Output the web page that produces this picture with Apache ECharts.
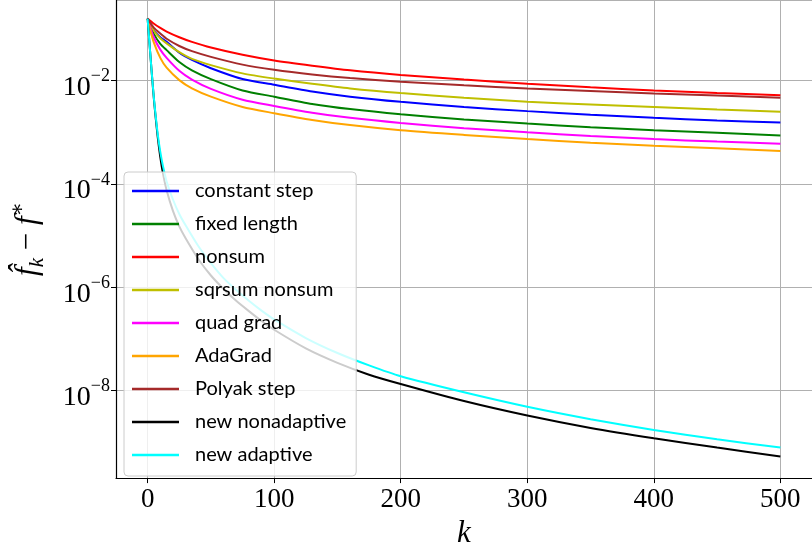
<!DOCTYPE html>
<html><head><meta charset="utf-8">
<script src="https://cdn.jsdelivr.net/npm/echarts@6/dist/echarts.min.js"></script>
<style>html,body{margin:0;padding:0;background:#fff}#c{width:812px;height:554px}</style>
</head><body><div id="c"></div>
<script>
// iteration counts k at which values were read (upper methods)
const kSteps = [0,2,5,10,15,25,35,50,75,100,130,160,200,250,300,350,400,450,500];
// log10(f_k - f*)
const constantStep = [-0.80,-0.89,-1.03,-1.16,-1.25,-1.46,-1.60,-1.76,-1.97,-2.08,-2.21,-2.31,-2.41,-2.51,-2.59,-2.66,-2.72,-2.77,-2.81];
const fixedLength  = [-0.80,-0.93,-1.10,-1.29,-1.41,-1.64,-1.80,-1.97,-2.19,-2.31,-2.45,-2.55,-2.65,-2.75,-2.83,-2.90,-2.96,-3.01,-3.06];
const nonsum       = [-0.80,-0.84,-0.90,-0.98,-1.05,-1.16,-1.25,-1.36,-1.50,-1.61,-1.71,-1.80,-1.89,-1.98,-2.06,-2.13,-2.19,-2.24,-2.285];
const sqrsumNonsum = [-0.80,-0.90,-1.04,-1.18,-1.28,-1.45,-1.58,-1.70,-1.86,-1.96,-2.06,-2.15,-2.24,-2.33,-2.41,-2.46,-2.51,-2.56,-2.60];
const quadGrad     = [-0.80,-0.97,-1.17,-1.40,-1.56,-1.81,-1.98,-2.16,-2.37,-2.49,-2.62,-2.72,-2.82,-2.92,-3.00,-3.07,-3.13,-3.18,-3.22];
const adaGrad      = [-0.80,-1.02,-1.27,-1.56,-1.75,-1.99,-2.15,-2.31,-2.51,-2.63,-2.76,-2.86,-2.96,-3.05,-3.13,-3.20,-3.26,-3.31,-3.36];
const polyakStep   = [-0.80,-0.88,-0.98,-1.09,-1.19,-1.33,-1.43,-1.54,-1.69,-1.79,-1.88,-1.95,-2.02,-2.09,-2.15,-2.20,-2.25,-2.29,-2.33];
// iteration counts for the two new methods
const kNew = [0,1,2,3,4,5,6,8,10,12,15,20,25,30,40,50,60,70,80,90,100,125,150,175,200,250,300,350,400,450,500];
const newNonadaptive = [-0.80,-1.13,-1.45,-1.77,-2.08,-2.37,-2.63,-3.10,-3.48,-3.78,-4.12,-4.52,-4.82,-5.05,-5.45,-5.77,-6.03,-6.26,-6.46,-6.65,-6.82,-7.18,-7.46,-7.69,-7.87,-8.20,-8.48,-8.72,-8.92,-9.10,-9.27];
const newAdaptive    = [-0.80,-1.13,-1.45,-1.77,-2.07,-2.35,-2.60,-3.04,-3.38,-3.64,-3.95,-4.30,-4.58,-4.80,-5.20,-5.53,-5.82,-6.05,-6.26,-6.45,-6.62,-6.98,-7.27,-7.51,-7.72,-8.03,-8.31,-8.55,-8.76,-8.94,-9.10];
const legendNames = ['constant step','fixed length','nonsum','sqrsum nonsum','quad grad','AdaGrad','Polyak step','new nonadaptive','new adaptive'];
const colors = ['#0000ff','#008000','#ff0000','#bfbf00','#ff00ff','#ffa500','#a52a2a','#000000','#00ffff'];
const yTickExponents = [-8,-6,-4,-2];
const xTicks = [0,100,200,300,400,500];

const serif = '"Liberation Serif","DejaVu Serif",serif';
const seriesData = [
  [kSteps, constantStep],[kSteps, fixedLength],[kSteps, nonsum],[kSteps, sqrsumNonsum],
  [kSteps, quadGrad],[kSteps, adaGrad],[kSteps, polyakStep],[kNew, newNonadaptive],[kNew, newAdaptive]
];
const chart = echarts.init(document.getElementById('c'), null, {renderer:'canvas'});
const option = {
  animation:false,
  backgroundColor:'#ffffff',
  grid:{left:112, right:-4, top:0, bottom:67, containLabel:false},
  xAxis:{
    type:'value', min:-25, max:525,
    axisLine:{show:true, onZero:false, lineStyle:{color:'#000', width:1.2}},
    axisTick:{show:true, length:5, lineStyle:{color:'#000', width:1}},
    splitLine:{show:true, lineStyle:{color:'#b0b0b0', width:1}},
    axisLabel:{showMinLabel:false, showMaxLabel:false, margin:8, fontFamily:serif, fontSize:27, color:'#000',
      formatter: v => xTicks.includes(Math.round(v)) && Math.abs(v-Math.round(v))<1e-6 ? String(Math.round(v)) : ''},
    name:'k', nameLocation:'middle', nameGap:30,
    nameTextStyle:{fontFamily:serif, fontStyle:'italic', fontSize:31, color:'#000'}
  },
  yAxis:{
    type:'value', min:-9.69, max:-0.44,
    axisLine:{show:true, onZero:false, lineStyle:{color:'#000', width:1.2}},
    axisTick:{show:true, length:5, lineStyle:{color:'#000', width:1}},
    splitLine:{show:true, lineStyle:{color:'#b0b0b0', width:1}},
    axisLabel:{showMinLabel:false, showMaxLabel:false, margin:6, color:'#000', padding:[8,0,0,0],
      formatter: v => { const n=Math.round(v); if (Math.abs(v-n)>1e-6 || !yTickExponents.includes(n)) return ''; return '{b|10}{s|\u2212'+(-n)+'}'; },
      rich:{
        b:{fontFamily:serif, fontSize:28, lineHeight:34, verticalAlign:'bottom', color:'#000'},
        s:{fontFamily:serif, fontSize:18, lineHeight:24, verticalAlign:'top', color:'#000'}
      }},
    name:'{f|f\u0302}{sub|k}{m| \u2212 }{f|f}{sup|\u2217}', nameLocation:'middle', nameGap:68, nameRotate:90,
    nameTextStyle:{rich:{
      f:{fontFamily:serif, fontStyle:'italic', fontSize:31, lineHeight:40, verticalAlign:'middle', color:'#000'},
      m:{fontFamily:serif, fontSize:31, lineHeight:40, verticalAlign:'middle', color:'#000'},
      sub:{fontFamily:serif, fontStyle:'italic', fontSize:21, lineHeight:40, verticalAlign:'bottom', color:'#000'},
      sup:{fontFamily:serif, fontSize:21, lineHeight:22, verticalAlign:'top', color:'#000'}
    }}
  },
  legend:{
    orient:'vertical', left:124, top:172,
    padding:[9,10,11,8], itemWidth:47, itemHeight:2.5, itemGap:13, icon:'rect',
    backgroundColor:'rgba(255,255,255,0.8)', borderColor:'#cccccc', borderWidth:1, borderRadius:4,
    textStyle:{fontFamily:'Lato', fontSize:20, lineHeight:20, color:'#000', padding:[0,0,0,11]},
    data:legendNames
  },
  series: legendNames.map((name,i)=>({
    type:'line', name:name,
    data: seriesData[i][0].map((k,j)=>[k, seriesData[i][1][j]]),
    symbol:'none', showSymbol:false, smooth:0.25,
    lineStyle:{color:colors[i], width:2}, itemStyle:{color:colors[i]},
    emphasis:{disabled:true}
  }))
};
chart.setOption(option);
</script></body></html>
